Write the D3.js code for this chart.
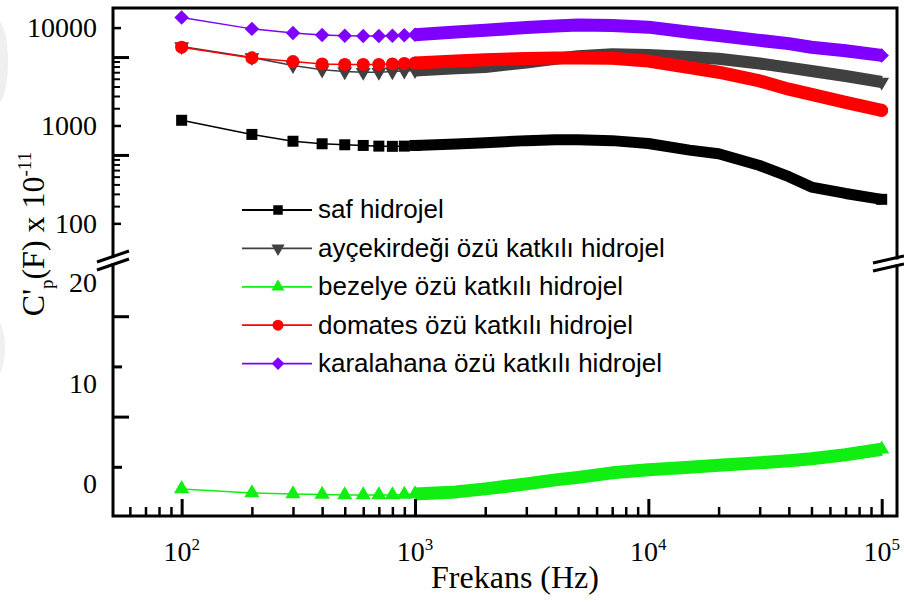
<!DOCTYPE html>
<html>
<head>
<meta charset="utf-8">
<script src="https://cdn.jsdelivr.net/npm/d3@7/dist/d3.min.js"></script>
<style>
  html, body { margin: 0; padding: 0; background: #fff; }
  svg { display: block; }
</style>
</head>
<body>
<svg id="chart" width="904" height="602"></svg>
<script>
// Frequency sweep (Hz) at which the capacitance was read
const freqHz = [100, 200, 300, 400, 500, 600, 700, 800, 900, 1000, 1500, 2000, 3000, 4000, 5000, 7000,
                10000, 15000, 20000, 30000, 40000, 50000, 70000, 100000];

// C'p (F) x 10^-11 for each hydrogel
const safHidrojel = [1130, 810, 690, 650, 635, 625, 615, 612, 615, 625, 645, 665, 700, 715, 715, 700,
                     655, 560, 515, 390, 300, 235, 202, 176];
const aycekirdegi = [6400, 4950, 4100, 3700, 3550, 3500, 3500, 3550, 3600, 3650, 3850, 3950, 4400, 4800, 5100, 5350,
                     5250, 5000, 4800, 4300, 3900, 3600, 3200, 2780];
const bezelye     = [-2.2, -2.6, -2.7, -2.75, -2.8, -2.8, -2.8, -2.8, -2.75, -2.7, -2.5, -2.2, -1.7, -1.3, -1.05, -0.6,
                     -0.3, -0.05, 0.15, 0.4, 0.6, 0.8, 1.2, 1.75];
const domates     = [6300, 4900, 4500, 4250, 4200, 4200, 4200, 4250, 4300, 4350, 4550, 4700, 4830, 4900, 4900, 4850,
                     4550, 3900, 3500, 2850, 2350, 2080, 1720, 1425];
const karalahana  = [12700, 9700, 8800, 8400, 8250, 8200, 8200, 8250, 8350, 8450, 9000, 9400, 10000, 10400, 10600, 10500,
                     10100, 8960, 8300, 7400, 6850, 6300, 5800, 5200];

// Axis ticks and labels
const xMajorTicks = [1e2, 1e3, 1e4, 1e5];
const xExponents  = ["2", "3", "4", "5"];
const topLabelTicks = [100, 1000, 10000];
const topLongTicks  = [500, 5000];
const topMinorTicks = [150, 200, 250, 300, 350, 400, 450, 1500, 2000, 2500, 3000, 3500, 4000, 4500];
const botLabelTicks = [0, 10, 20];
const botShortTicks = [0, 10];
const botLongTicks  = [5, 15];

const seriesNames = ["saf hidrojel", "ayçekirdeği özü katkılı hidrojel", "bezelye özü katkılı hidrojel",
                     "domates özü katkılı hidrojel", "karalahana özü katkılı hidrojel"];

const serif = "'Liberation Serif', 'Times New Roman', serif";
const sans  = "'Liberation Sans', Arial, sans-serif";

const svg = d3.select("#chart");
const L = 113, R = 897, T = 8, B = 516;

// faint shading at the left page edge
svg.append("ellipse").attr("cx", -3).attr("cy", 62).attr("rx", 11).attr("ry", 42).attr("fill", "#efefef");
svg.append("ellipse").attr("cx", -4).attr("cy", 348).attr("rx", 9).attr("ry", 28).attr("fill", "#f0f0f0");

const x = d3.scaleLog().domain([50.8, 116300]).range([L, R]);
const yTop = d3.scaleLog().domain([46.4, 15850]).range([256, T]);
const yBot = d3.scaleLinear().domain([-4.9, 20.2]).range([B, 264]);

const xMinorTicks = [];
[10, 100, 1000, 10000].forEach(d => { for (let k = 2; k <= 9; k++) { const v = d * k; if (v > 55 && v < 1e5) xMinorTicks.push(v); } });

// ---- data ----
const series = [
  { name: seriesNames[0], values: safHidrojel, color: "#000000", y: yTop, symbol: d3.symbolSquare, size: 121, rot: 0,  band: 11, lsize: 90 },
  { name: seriesNames[1], values: aycekirdegi, color: "#404040", y: yTop, symbol: d3.symbolTriangle, size: 95, rot: 180, band: 12, lsize: 75 },
  { name: seriesNames[2], values: bezelye,     color: "#11ee11", y: yBot, symbol: d3.symbolTriangle, size: 100, rot: 0, band: 13, lsize: 75 },
  { name: seriesNames[3], values: domates,     color: "#ff0000", y: yTop, symbol: d3.symbolCircle, size: 135, rot: 0,   band: 13, lsize: 95 },
  { name: seriesNames[4], values: karalahana,  color: "#7f00ff", y: yTop, symbol: d3.symbolSquare, size: 105, rot: 45,  band: 13, lsize: 80 }
];

const plot = svg.append("g");
const drawOrder = [2, 0, 1, 3, 4];
const lastF = freqHz[freqHz.length - 1];
drawOrder.forEach(i => {
  const s = series[i];
  const pts = freqHz.map((f, j) => ({ f, v: s.values[j] }));
  const g = plot.append("g");
  const line = d3.line().x(d => x(d.f)).y(d => s.y(d.v));
  g.append("path").attr("d", line(pts)).attr("fill", "none")
    .attr("stroke", s.color).attr("stroke-width", 1.5);
  // above 1 kHz the dense sweep markers merge into a continuous band
  g.append("path").attr("d", line(pts.filter(d => d.f >= 1000))).attr("fill", "none")
    .attr("stroke", s.color).attr("stroke-width", s.band)
    .attr("stroke-linejoin", "round").attr("stroke-linecap", "butt");
  const sym = d3.symbol().type(s.symbol).size(s.size);
  g.selectAll("path.m").data(pts.filter(d => d.f <= 1000 || d.f === lastF)).join("path").attr("class", "m")
    .attr("d", sym)
    .attr("transform", d => `translate(${x(d.f)},${s.y(d.v)}) rotate(${s.rot})`)
    .attr("fill", s.color);
});

// ---- axes ----
const axG = svg.append("g").attr("stroke-linecap", "butt");

function styleAxis(g, width) {
  g.select(".domain").remove();
  g.selectAll(".tick line").attr("stroke", "#000").attr("stroke-width", width);
}

// x axis
axG.append("g").attr("transform", `translate(0,${B})`)
  .call(d3.axisBottom(x).tickValues(xMajorTicks).tickSizeInner(-17).tickSizeOuter(0).tickFormat(""))
  .call(g => styleAxis(g, 3));
axG.append("g").attr("transform", `translate(0,${B})`)
  .call(d3.axisBottom(x).tickValues(xMinorTicks).tickSizeInner(-9).tickSizeOuter(0).tickFormat(""))
  .call(g => styleAxis(g, 2.5));

const xl = svg.append("g");
xMajorTicks.forEach((v, i) => {
  const t = xl.append("text").attr("x", x(v)).attr("y", 561).attr("text-anchor", "middle")
    .attr("font-family", serif).attr("font-size", 28).attr("fill", "#000");
  t.append("tspan").text("10");
  t.append("tspan").attr("dy", -11).attr("font-size", 17).text(xExponents[i]);
});

// top (log) panel of the y axis
axG.append("g").attr("transform", `translate(${L},0)`)
  .call(d3.axisLeft(yTop).tickValues(topLabelTicks).tickSizeInner(-8).tickSizeOuter(0).tickPadding(16)
    .tickFormat(d3.format("d")))
  .call(g => styleAxis(g, 2.5))
  .call(g => g.selectAll("text").attr("font-family", serif).attr("font-size", 28).attr("fill", "#000"));
axG.append("g").attr("transform", `translate(${L},0)`)
  .call(d3.axisLeft(yTop).tickValues(topLongTicks).tickSizeInner(-16).tickSizeOuter(0).tickFormat(""))
  .call(g => styleAxis(g, 3));
axG.append("g").attr("transform", `translate(${L},0)`)
  .call(d3.axisLeft(yTop).tickValues(topMinorTicks).tickSizeInner(-7).tickSizeOuter(0).tickFormat(""))
  .call(g => styleAxis(g, 2));

// bottom (linear) panel of the y axis
axG.append("g").attr("transform", `translate(${L},0)`)
  .call(d3.axisLeft(yBot).tickValues(botShortTicks).tickSizeInner(-9).tickSizeOuter(0).tickFormat(""))
  .call(g => styleAxis(g, 3));
axG.append("g").attr("transform", `translate(${L},0)`)
  .call(d3.axisLeft(yBot).tickValues(botLongTicks).tickSizeInner(-16).tickSizeOuter(0).tickFormat(""))
  .call(g => styleAxis(g, 3));
axG.append("g").attr("transform", `translate(${L},0)`)
  .call(d3.axisLeft(yBot).tickValues(botLabelTicks).tickSize(0).tickPadding(16).tickFormat(d3.format("d")))
  .call(g => { g.select(".domain").remove(); g.selectAll("line").remove(); })
  .call(g => g.selectAll("text").attr("font-family", serif).attr("font-size", 28).attr("fill", "#000")
    .attr("y", 17));

// frame with axis breaks
const frame = svg.append("g").attr("stroke", "#000").attr("fill", "none").attr("stroke-width", 3);
frame.append("path").attr("d", `M${L},${B}H${R}V266 M${R},258V${T}H${L}V256.5 M${L},264.5V${B}`)
  .attr("stroke-linecap", "square");
frame.append("path").attr("d", "M97,262L129,251 M97,270L129,259").attr("stroke-width", 3);
frame.append("path").attr("d", "M873,263L904,256 M873,271L904,264").attr("stroke-width", 3);

// axis titles
svg.append("text").attr("x", 515).attr("y", 588).attr("text-anchor", "middle")
  .attr("font-family", serif).attr("font-size", 32).attr("fill", "#000").text("Frekans (Hz)");

const yt = svg.append("text").attr("transform", "translate(44,234) rotate(-90)").attr("text-anchor", "middle")
  .attr("font-family", serif).attr("font-size", 32).attr("fill", "#000");
yt.append("tspan").text("C'");
yt.append("tspan").attr("dy", 9).attr("font-size", 19).text("p");
yt.append("tspan").attr("dy", -9).text("(F) x 10");
yt.append("tspan").attr("dy", -13).attr("font-size", 19).text("-11");

// legend
const legend = svg.append("g");
series.forEach((s, i) => {
  const ly = 210 + i * 38.4;
  legend.append("line").attr("x1", 242).attr("x2", 312).attr("y1", ly).attr("y2", ly)
    .attr("stroke", s.color).attr("stroke-width", 1.8);
  legend.append("path").attr("d", d3.symbol().type(s.symbol).size(s.lsize))
    .attr("transform", `translate(278,${ly}) rotate(${s.rot})`).attr("fill", s.color);
  legend.append("text").attr("x", 318).attr("y", ly).attr("dy", "0.32em")
    .attr("font-family", sans).attr("font-size", 26).attr("fill", "#000").text(s.name);
});
</script>
</body>
</html>
